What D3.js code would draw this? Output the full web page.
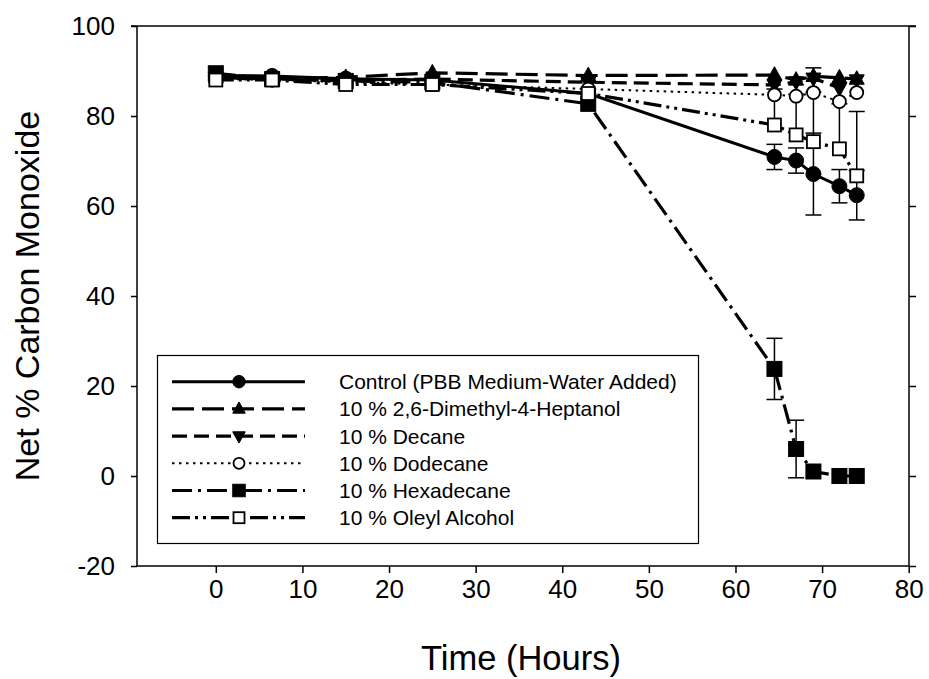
<!DOCTYPE html>
<html><head><meta charset="utf-8">
<script src="https://cdn.jsdelivr.net/npm/d3@7"></script>
<style>body{margin:0;background:#fff}svg{display:block}text{font-family:Arial,"Liberation Sans",sans-serif;fill:#000}</style>
</head><body><svg id="c" width="929" height="679"></svg>
<script>
// ---- data ----
const times = [0, 6.5, 15, 25, 43, 64.5, 67, 69, 72, 74];
const seriesNames = ["Control (PBB Medium-Water Added)", "10 % 2,6-Dimethyl-4-Heptanol", "10 % Decane", "10 % Dodecane", "10 % Hexadecane", "10 % Oleyl Alcohol"];
const controlVals   = [89.0, 88.9, 88.3, 88.0, 85.0, 70.9, 70.1, 67.1, 64.4, 62.4];
const dimethylVals  = [88.5, 88.3, 88.6, 89.6, 89.0, 89.1, 88.0, 88.8, 88.5, 88.2];
const decaneVals    = [88.5, 88.2, 88.0, 88.2, 87.5, 86.9, 87.6, 88.4, 86.2, 88.0];
const dodecaneVals  = [88.3, 88.0, 87.5, 87.0, 86.0, 84.7, 84.4, 85.2, 83.2, 85.2];
const hexadecaneVals= [89.5, 88.2, 87.8, 87.5, 82.7, 23.8, 6.0, 1.0, 0.0, 0.0];
const oleylVals     = [88.0, 88.0, 87.0, 87.0, 85.0, 78.0, 75.8, 74.3, 72.7, 66.7];
// error bars (upper, lower)
const controlErrUp   = [0, 0, 0, 0, 0, 2.8, 2.8, 9.1, 3.7, 5.5];
const controlErrDown = [0, 0, 0, 0, 0, 2.8, 2.8, 9.1, 3.7, 5.5];
const hexErrUp       = [0, 0, 0, 0, 0, 6.8, 6.4, 0, 0, 0];
const hexErrDown     = [0, 0, 0, 0, 0, 6.8, 6.4, 0, 0, 0];
const oleylErrUp     = [0, 0, 0, 0, 0, 8, 9, 11, 10, 14.3];
const oleylErrDown   = [0, 0, 0, 0, 0, 0, 0, 0, 0, 0];
const decaneErrUp    = [0, 0, 0, 0, 0, 0, 0, 2.3, 0, 0];
const decaneErrDown  = [0, 0, 0, 0, 0, 0, 0, 0, 0, 0];
const zeros = times.map(() => 0);
const xTicks = [0, 10, 20, 30, 40, 50, 60, 70, 80];
const yTicks = [-20, 0, 20, 40, 60, 80, 100];

// styles
const styles = [
  {marker: "circle",  fill: "#000", dash: null,            width: 3},
  {marker: "triUp",   fill: "#000", dash: "22,8",          width: 3.2},
  {marker: "triDown", fill: "#000", dash: "15,7",          width: 3.2},
  {marker: "circle",  fill: "#fff", dash: "2.5,4.5",       width: 2},
  {marker: "square",  fill: "#000", dash: "20,6,3,6",      width: 3.2},
  {marker: "square",  fill: "#fff", dash: "18,5,3,5,3,5",  width: 3.2}
];
const valsList = [controlVals, dimethylVals, decaneVals, dodecaneVals, hexadecaneVals, oleylVals];
const errUpList = [controlErrUp, zeros, decaneErrUp, zeros, hexErrUp, oleylErrUp];
const errDownList = [controlErrDown, zeros, decaneErrDown, zeros, hexErrDown, oleylErrDown];

const svg = d3.select("#c");
const L = 137, R = 909, T = 26, B = 566;
const x = d3.scaleLinear().domain([-9.1, 80]).range([L, 908.7]);
const y = d3.scaleLinear().domain([-20, 100]).range([B, T]);
const fmt = d => String(d);

// frame top
svg.append("line").attr("x1", L - 6).attr("x2", R + 7).attr("y1", T).attr("y2", T).attr("stroke", "#000").attr("stroke-width", 1.5);
// axes
const yAxisL = svg.append("g").attr("transform", `translate(${L},0)`)
  .call(d3.axisLeft(y).tickValues(yTicks).tickSize(6).tickPadding(16).tickFormat(fmt));
const yAxisR = svg.append("g").attr("transform", `translate(${R},0)`)
  .call(d3.axisRight(y).tickValues(yTicks).tickSize(7).tickFormat(""));
const xAxisB = svg.append("g").attr("transform", `translate(0,${B})`)
  .call(d3.axisBottom(x).tickValues(xTicks).tickSize(7).tickPadding(7).tickFormat(fmt));
[yAxisL, yAxisR, xAxisB].forEach(g => {
  g.select(".domain").remove();
  g.selectAll(".tick line").attr("stroke-width", 1.5);
  g.selectAll(".tick text").style("font-size", "26px").attr("fill", "#000");
});
svg.append("line").attr("x1", L).attr("x2", L).attr("y1", T).attr("y2", B).attr("stroke", "#000").attr("stroke-width", 1.5);
svg.append("line").attr("x1", R).attr("x2", R).attr("y1", T).attr("y2", B).attr("stroke", "#000").attr("stroke-width", 1.5);
svg.append("line").attr("x1", L).attr("x2", R).attr("y1", B).attr("y2", B).attr("stroke", "#000").attr("stroke-width", 1.5);

// titles
svg.append("text").attr("x", 521).attr("y", 670).attr("text-anchor", "middle").style("font-size", "34.5px").text("Time (Hours)");
svg.append("text").attr("transform", "translate(39,296) rotate(-90)").attr("text-anchor", "middle").style("font-size", "34px").text("Net % Carbon Monoxide");

function marker(g, type, cx, cy, fill, s) {
  let p;
  if (type === "circle") {
    p = g.append("circle").attr("cx", cx).attr("cy", cy).attr("r", s / 2);
  } else if (type === "square") {
    p = g.append("rect").attr("x", cx - s / 2).attr("y", cy - s / 2).attr("width", s).attr("height", s);
  } else if (type === "triUp") {
    const h = s * 0.9;
    p = g.append("path").attr("d", `M${cx},${cy - h * 0.62}L${cx + s / 2},${cy + h * 0.38}L${cx - s / 2},${cy + h * 0.38}Z`);
  } else {
    const h = s * 0.9;
    p = g.append("path").attr("d", `M${cx},${cy + h * 0.62}L${cx + s / 2},${cy - h * 0.38}L${cx - s / 2},${cy - h * 0.38}Z`);
  }
  p.attr("fill", fill).attr("stroke", "#000").attr("stroke-width", fill === "#fff" ? 1.8 : 1);
}

const line = d3.line().x(d => x(d[0])).y(d => y(d[1]));
const plot = svg.append("g");
// lines
valsList.forEach((vals, i) => {
  const st = styles[i];
  plot.append("path").datum(times.map((t, j) => [t, vals[j]]))
    .attr("d", line).attr("fill", "none").attr("stroke", "#000")
    .attr("stroke-width", st.width).attr("stroke-dasharray", st.dash);
});
// error bars
valsList.forEach((vals, i) => {
  times.forEach((t, j) => {
    const up = errUpList[i][j], dn = errDownList[i][j];
    const cx = x(t);
    [[up, 1], [dn, -1]].forEach(([e, s]) => {
      if (e > 0) {
        const ye = y(vals[j] + s * e);
        plot.append("line").attr("x1", cx).attr("x2", cx).attr("y1", y(vals[j])).attr("y2", ye).attr("stroke", "#000").attr("stroke-width", 1.5);
        plot.append("line").attr("x1", cx - 8).attr("x2", cx + 8).attr("y1", ye).attr("y2", ye).attr("stroke", "#000").attr("stroke-width", 1.5);
      }
    });
  });
});
// markers
valsList.forEach((vals, i) => {
  const st = styles[i];
  times.forEach((t, j) => marker(plot, st.marker, x(t), y(vals[j]), st.fill, st.fill === "#fff" ? 13 : 15));
});

// legend
const lg = svg.append("g");
lg.append("rect").attr("x", 157.5).attr("y", 355.5).attr("width", 541).attr("height", 188).attr("fill", "#fff").attr("stroke", "#000").attr("stroke-width", 1.2);
seriesNames.forEach((name, i) => {
  const st = styles[i];
  const yy = 381.7 + i * 27.2;
  lg.append("line").attr("x1", 172).attr("x2", 305).attr("y1", yy).attr("y2", yy).attr("stroke", "#000")
    .attr("stroke-width", st.width).attr("stroke-dasharray", st.dash);
  marker(lg, st.marker, 239, yy, st.fill, st.fill === "#fff" ? 11 : 12.5);
  lg.append("text").attr("x", 339).attr("y", yy + 7.5).style("font-size", "21px").text(name);
});
</script>
</body></html>
